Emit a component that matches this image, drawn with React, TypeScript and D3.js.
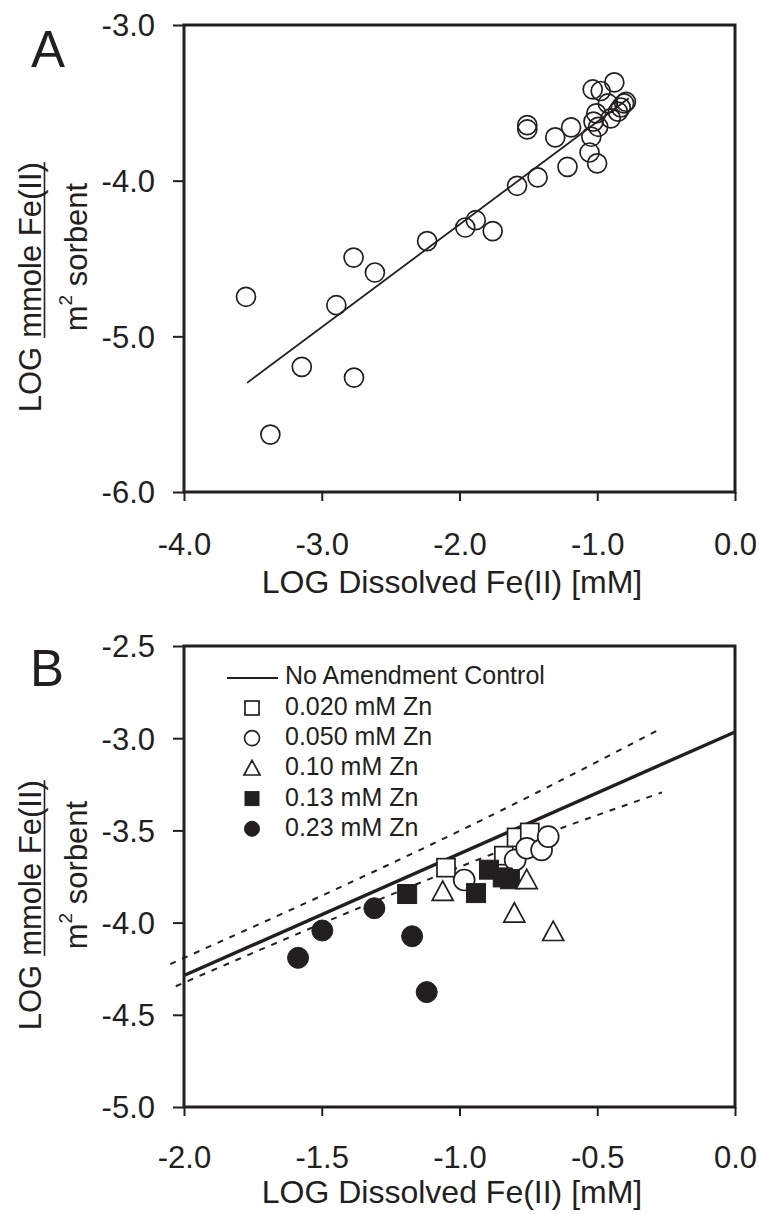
import React, { useEffect, useRef } from 'react';
import * as d3 from 'd3';

// ---------- Panel A data ----------
const aX = [-3.550, -3.373, -3.145, -2.766, -2.894, -2.769, -2.614, -2.235, -1.958, -1.882, -1.759, -1.582, -1.433, -1.508, -1.508, -1.305, -1.190, -1.216, -1.056, -1.001, -1.043, -1.033, -0.975, -0.876, -0.923, -1.027, -1.007, -0.902, -0.850, -0.805, -0.792, -0.993, -0.829];
const aY = [-4.746, -5.631, -5.196, -5.265, -4.800, -4.494, -4.590, -4.388, -4.301, -4.254, -4.324, -4.033, -3.979, -3.643, -3.671, -3.722, -3.658, -3.911, -3.819, -3.889, -3.718, -3.414, -3.424, -3.369, -3.504, -3.621, -3.568, -3.600, -3.557, -3.504, -3.493, -3.654, -3.530];
const aFitX = [-3.542, -0.771];
const aFitY = [-5.299, -3.471];
const aTicksX = [-4, -3, -2, -1, 0];
const aTicksY = [-3, -4, -5, -6];

// ---------- Panel B data ----------
const controlX = [-2.0, 0.0];
const controlY = [-4.287, -2.966];
const upperBandX = [-2.05, -0.819, -0.278];
const upperBandY = [-4.225, -3.370, -2.955];
const lowerBandX = [-2.03, -0.624, -0.265];
const lowerBandY = [-4.345, -3.484, -3.294];

const zn020X = [-1.049, -0.839, -0.793, -0.745];
const zn020Y = [-3.702, -3.637, -3.538, -3.511];
const zn050X = [-0.983, -0.798, -0.756, -0.702, -0.678];
const zn050Y = [-3.769, -3.660, -3.597, -3.606, -3.534];
const zn10X = [-1.061, -0.756, -0.801, -0.660];
const zn10Y = [-3.832, -3.769, -3.950, -4.050];
const zn13X = [-1.190, -0.940, -0.893, -0.843, -0.817];
const zn13Y = [-3.845, -3.840, -3.713, -3.755, -3.765];
const zn23X = [-1.586, -1.498, -1.309, -1.172, -1.119];
const zn23Y = [-4.191, -4.043, -3.922, -4.074, -4.377];

const bTicksX = [-2.0, -1.5, -1.0, -0.5, 0.0];
const bTicksY = [-2.5, -3.0, -3.5, -4.0, -4.5, -5.0];
const legendLineLabel = 'No Amendment Control';
const seriesLabels = ['0.020 mM Zn', '0.050 mM Zn', '0.10 mM Zn', '0.13 mM Zn', '0.23 mM Zn'];
const seriesKinds = ['openSquare', 'openCircle', 'openTriangle', 'filledSquare', 'filledCircle'];

const INK = '#231f20';
const FONT = "'Liberation Sans', Arial, Helvetica, sans-serif";

function marker(g: any, kind: string, cx: number, cy: number, s: number) {
  const open = kind.startsWith('open');
  const fill = open ? '#fff' : INK;
  const sw = open ? 1.7 : 1;
  if (kind.endsWith('Square')) {
    g.append('rect').attr('x', cx - s / 2).attr('y', cy - s / 2).attr('width', s).attr('height', s)
      .attr('fill', fill).attr('stroke', INK).attr('stroke-width', sw);
  } else if (kind.endsWith('Circle')) {
    g.append('circle').attr('cx', cx).attr('cy', cy).attr('r', s / 2)
      .attr('fill', fill).attr('stroke', INK).attr('stroke-width', sw);
  } else {
    const h = s * 0.92;
    g.append('path')
      .attr('d', `M${cx},${cy - h * 0.55}L${cx + s / 2},${cy + h * 0.45}L${cx - s / 2},${cy + h * 0.45}Z`)
      .attr('fill', fill).attr('stroke', INK).attr('stroke-width', sw).attr('stroke-linejoin', 'miter');
  }
}

function axes(svg: any, x: any, y: any, ticksX: number[], ticksY: number[], xLabelOffset: number) {
  const [x0, x1] = x.range();
  const [yb, yt] = y.range();
  const fmt = (d: number) => d.toFixed(1);
  const gy = svg.append('g').attr('transform', `translate(${x0},0)`)
    .call(d3.axisLeft(y).tickValues(ticksY).tickSize(11).tickPadding(18).tickFormat(fmt as any));
  gy.select('.domain').remove();
  gy.selectAll('line').attr('stroke', INK).attr('stroke-width', 2);
  gy.selectAll('text').attr('font-size', 31).attr('font-family', FONT).attr('fill', INK).attr('dy', '0.35em');
  const gx = svg.append('g').attr('transform', `translate(0,${yb})`)
    .call(d3.axisBottom(x).tickValues(ticksX).tickSize(9).tickPadding(xLabelOffset).tickFormat(fmt as any));
  gx.select('.domain').remove();
  gx.selectAll('line').attr('stroke', INK).attr('stroke-width', 2);
  gx.selectAll('text').attr('font-size', 31).attr('font-family', FONT).attr('fill', INK).attr('dy', '0.71em');
  svg.append('rect').attr('x', x0).attr('y', yt).attr('width', x1 - x0).attr('height', yb - yt)
    .attr('fill', 'none').attr('stroke', INK).attr('stroke-width', 3);
}

function yTitle(svg: any, cy: number) {
  const g = svg.append('g').attr('transform', `translate(0,${cy}) rotate(-90)`)
    .attr('font-family', FONT).attr('font-size', 31).attr('fill', INK);
  const fc = 8;
  const frac = g.append('text').attr('x', fc).attr('y', 41).attr('text-anchor', 'middle').text('mmole Fe(II)');
  const fw = (frac.node() as SVGTextElement).getComputedTextLength();
  g.append('line').attr('x1', fc - fw / 2).attr('x2', fc + fw / 2).attr('y1', 44.5).attr('y2', 44.5)
    .attr('stroke', INK).attr('stroke-width', 1.6);
  g.append('text').attr('x', fc - fw / 2 - 9).attr('y', 41).attr('text-anchor', 'end').text('LOG');
  const den = g.append('text').attr('x', 1).attr('y', 87).attr('text-anchor', 'middle').style('white-space', 'pre');
  den.append('tspan').text('m');
  den.append('tspan').attr('dy', -15).attr('font-size', 19).text('2');
  den.append('tspan').attr('dy', 15).text(' sorbent');
}

function xTitle(svg: any, cx: number, baseline: number) {
  svg.append('text').attr('x', cx).attr('y', baseline).attr('text-anchor', 'middle')
    .attr('font-family', FONT).attr('font-size', 32).attr('fill', INK).text('LOG Dissolved Fe(II) [mM]');
}

export default function App() {
  const ref = useRef<SVGSVGElement>(null);
  useEffect(() => {
    const svg = d3.select(ref.current);
    svg.selectAll('*').remove();

    // ----- Panel A -----
    const xA = d3.scaleLinear().domain([-4, 0]).range([184, 735]);
    const yA = d3.scaleLinear().domain([-6, -3]).range([492, 25]);
    const fitLine = d3.line<number>().x((_, i) => xA(aFitX[i])).y((_, i) => yA(aFitY[i]));
    svg.append('path').attr('d', fitLine(aFitX) as string).attr('fill', 'none').attr('stroke', INK).attr('stroke-width', 1.8);
    const gA = svg.append('g');
    aX.forEach((v, i) => {
      gA.append('circle').attr('cx', xA(v)).attr('cy', yA(aY[i])).attr('r', 9.5)
        .attr('fill', '#fff').attr('fill-opacity', 0).attr('stroke', INK).attr('stroke-width', 1.7);
    });
    axes(svg, xA, yA, aTicksX, aTicksY, 32);
    yTitle(svg, 258);
    xTitle(svg, 452, 593);
    svg.append('text').attr('x', 31).attr('y', 67).attr('font-family', FONT).attr('font-size', 51).attr('fill', INK).text('A');

    // ----- Panel B -----
    const xB = d3.scaleLinear().domain([-2, 0]).range([184, 735]);
    const yB = d3.scaleLinear().domain([-5, -2.5]).range([1107, 646]);
    const ln = (xs: number[], ys: number[]) => d3.line<number>().x((_, i) => xB(xs[i])).y((_, i) => yB(ys[i])).curve(d3.curveMonotoneX)(xs) as string;
    svg.append('path').attr('d', ln(upperBandX, upperBandY)).attr('fill', 'none').attr('stroke', INK).attr('stroke-width', 2).attr('stroke-dasharray', '6,7');
    svg.append('path').attr('d', ln(lowerBandX, lowerBandY)).attr('fill', 'none').attr('stroke', INK).attr('stroke-width', 2).attr('stroke-dasharray', '6,7');
    svg.append('path').attr('d', ln(controlX, controlY)).attr('fill', 'none').attr('stroke', INK).attr('stroke-width', 3.4);

    const gB = svg.append('g');
    const order = [0, 1, 3, 2, 4];
    const sx = [zn020X, zn050X, zn10X, zn13X, zn23X];
    const sy = [zn020Y, zn050Y, zn10Y, zn13Y, zn23Y];
    const sizes = [18, 21, 21, 19, 21];
    order.forEach(k => {
      sx[k].forEach((v, i) => marker(gB, seriesKinds[k], xB(v), yB(sy[k][i]), sizes[k]));
    });

    axes(svg, xB, yB, bTicksX, bTicksY, 30);
    yTitle(svg, 876);
    xTitle(svg, 452, 1203);
    svg.append('text').attr('x', 30).attr('y', 686).attr('font-family', FONT).attr('font-size', 51).attr('fill', INK).text('B');

    // legend
    const lg = svg.append('g').attr('font-family', FONT).attr('font-size', 25).attr('fill', INK);
    lg.append('line').attr('x1', 227).attr('x2', 278).attr('y1', 678).attr('y2', 678).attr('stroke', INK).attr('stroke-width', 1.8);
    lg.append('text').attr('x', 285).attr('y', 684).text(legendLineLabel);
    const legSizes = [14, 15, 16, 14, 15];
    seriesLabels.forEach((lab, i) => {
      const base = 715 + i * 30.2;
      marker(lg, seriesKinds[i], 252, base - 7, legSizes[i]);
      lg.append('text').attr('x', 285).attr('y', base).text(lab);
    });
  }, []);
  return (
    <svg ref={ref} width={759} height={1214}
      style={{ position: 'absolute', left: 0, top: 0, background: '#fff', display: 'block' }} />
  );
}
